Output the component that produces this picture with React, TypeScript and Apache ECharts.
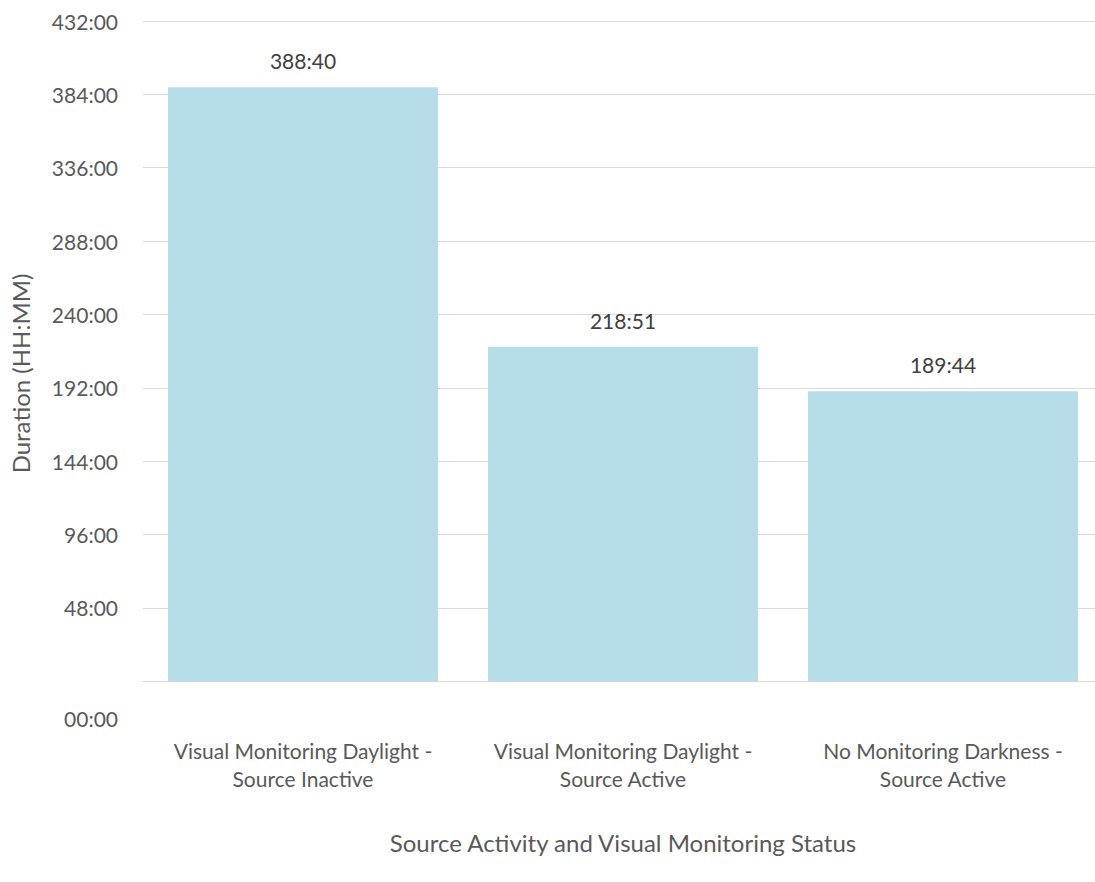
import React, { useEffect, useRef } from "react";
import * as echarts from "echarts";

const categories = [
  "Visual Monitoring Daylight -\nSource Inactive",
  "Visual Monitoring Daylight -\nSource Active",
  "No Monitoring Darkness -\nSource Active",
];
const durationLabels = ["388:40", "218:51", "189:44"];
const yTickLabels = [
  "00:00", "48:00", "96:00", "144:00", "192:00", "240:00", "288:00", "336:00", "384:00", "432:00",
];

const toHours = (s: string) => {
  const [h, m] = s.split(":").map(Number);
  return h + m / 60;
};
const durationHours = durationLabels.map(toHours);

const FONT = "Lato, 'Open Sans', sans-serif";

export default function App() {
  const ref = useRef<HTMLDivElement>(null);
  useEffect(() => {
    document.body.style.margin = "0";
    if (!ref.current) return;
    const chart = echarts.init(ref.current, undefined, { renderer: "svg" });
    chart.setOption({
      animation: false,
      textStyle: { fontFamily: FONT },
      grid: {
        left: 143,
        width: 960,
        top: 21,
        bottom: 164,
        containLabel: false,
        outerBoundsMode: "none",
      },
      xAxis: {
        type: "category",
        data: categories,
        axisLine: { onZero: true, lineStyle: { color: "#d9d9d9", width: 1 } },
        axisTick: { show: false },
        axisLabel: {
          interval: 0,
          hideOverlap: false,
          color: "#595959",
          fontSize: 21,
          lineHeight: 28,
          margin: 18,
          fontFamily: FONT,
        },
        name: "Source Activity and Visual Monitoring Status",
        nameLocation: "middle",
        nameGap: 112,
        nameTextStyle: { color: "#595959", fontSize: 24, fontFamily: FONT },
      },
      yAxis: {
        type: "value",
        min: -24,
        max: 432,
        interval: 24,
        axisLine: { show: false },
        axisTick: { show: false },
        splitLine: { show: true, lineStyle: { color: ["rgba(0,0,0,0)", "#d9d9d9"], width: 1 } },
        axisLabel: {
          color: "#595959",
          fontSize: 21,
          margin: 25,
          fontFamily: FONT,
          formatter: (v: number) => {
            if (v === -24) return yTickLabels[0];
            if (v > 0 && v % 48 === 0) return yTickLabels[v / 48] ?? "";
            return "";
          },
        },
        name: "Duration (HH:MM)",
        nameLocation: "middle",
        nameGap: 111,
        nameRotate: 90,
        nameTextStyle: { color: "#595959", fontSize: 24, fontFamily: FONT, padding: [0, 8, 0, 0] },
      },
      series: [
        {
          type: "bar",
          data: durationHours,
          barWidth: 270,
          itemStyle: { color: "#b7dde8" },
          label: {
            show: true,
            position: "top",
            distance: 16,
            color: "#404040",
            fontSize: 21,
            fontFamily: FONT,
            formatter: (p: any) => durationLabels[p.dataIndex],
          },
        },
      ],
    });
    return () => chart.dispose();
  }, []);
  return <div ref={ref} style={{ width: 1095, height: 882 }} />;
}
